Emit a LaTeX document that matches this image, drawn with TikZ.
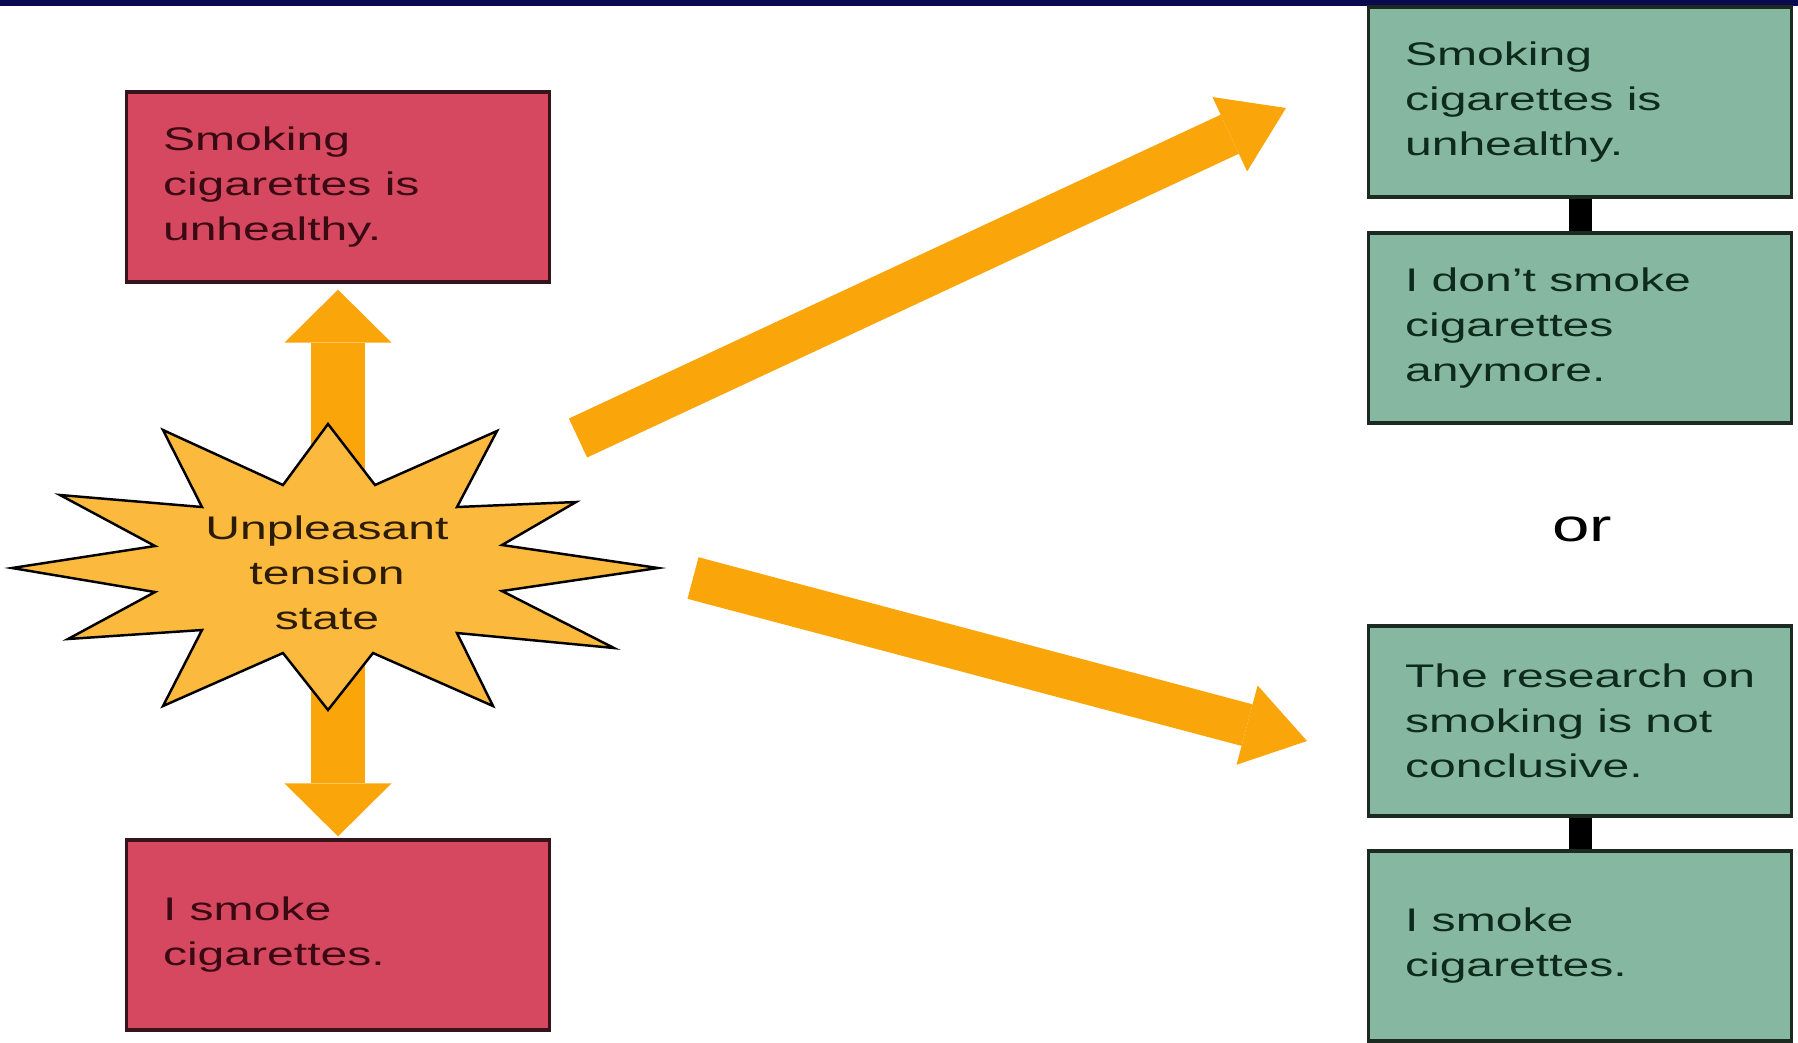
\documentclass[tikz,border=0pt]{standalone}
\usepackage{fontspec}
\setmainfont{Liberation Sans}[FakeStretch=1.47]
\usetikzlibrary{arrows.meta}

\definecolor{navybar}{RGB}{10,10,80}
\definecolor{redfill}{RGB}{214,72,95}
\definecolor{redline}{RGB}{55,20,28}
\definecolor{redtext}{RGB}{58,10,20}
\definecolor{greenfill}{RGB}{134,184,161}
\definecolor{greenline}{RGB}{28,42,34}
\definecolor{greentext}{RGB}{14,42,28}
\definecolor{burstfill}{RGB}{251,185,62}
\definecolor{bursttext}{RGB}{45,28,5}
\definecolor{arrowc}{RGB}{250,166,10}

\begin{document}
\begin{tikzpicture}[x=0.01cm, y=-0.01cm]
	\tikzstyle{box}=[draw, line width=0.9pt, minimum width=4.23cm, minimum height=1.9cm, inner sep=0pt]
	\tikzstyle{red box}=[box, fill=redfill, draw=redline]
	\tikzstyle{green box}=[box, fill=greenfill, draw=greenline]
	\tikzstyle{box text}=[anchor=west, align=left, inner sep=0pt, font=\fontsize{9.3}{12.8}\selectfont]

	\tikzstyle{tall arrow}=[draw=arrowc, line width=0.54cm, -{Triangle[width=1.07cm, length=0.53cm, line width=0pt]}]
	\tikzstyle{slant arrow}=[draw=arrowc, line width=0.43cm, -{Triangle[width=0.82cm, length=0.62cm, line width=0pt]}]
	\tikzstyle{link}=[draw=black, line width=0.23cm]

	\useasboundingbox (0,0) rectangle (1798,1042);
	\fill[navybar] (0,0) rectangle (1798,6);

	\node[red box] (unhealthy) at (338,187) {};
	\node[red box] (smoker) at (338,935) {};
	\node[box text, text=redtext] (unhealthy-txt) at ([xshift=0.375cm]unhealthy.west) {Smoking\\cigarettes is\\unhealthy.};
	\node[box text, text=redtext] (smoker-txt) at ([xshift=0.375cm]smoker.west) {I smoke\\cigarettes.};

	\coordinate (burst) at (328,568);
	\draw[tall arrow, shorten >=0.06cm] (burst -| unhealthy.south) -- (unhealthy.south);
	\draw[tall arrow, shorten >=0.02cm] (burst -| smoker.north) -- (smoker.north);

	\draw[fill=burstfill, draw=black, line width=0.7pt, line join=miter]
		plot coordinates {(328,424) (375,485) (497,431) (457,507) (576,502) (502,545)
		(658,568) (502,591) (614,648) (457,633) (493,706) (373,653) (328,710) (283,653)
		(163,706) (202,630) (68,639) (155,592) (12,568) (155,546) (60,495) (202,507)
		(163,430) (283,485)} -- cycle;
	\node[align=center, inner sep=0pt, text=bursttext, font=\fontsize{9.3}{12.8}\selectfont] (tension) at (327,573) {Unpleasant\\tension\\state};

	\node[green box] (unhealthy2) at (1580,102) {};
	\node[green box] (quit) at (1580,328) {};
	\node[green box] (research) at (1580,721) {};
	\node[green box] (smoker2) at (1580,946) {};
	\node[box text, text=greentext] (unhealthy2-txt) at ([xshift=0.375cm]unhealthy2.west) {Smoking\\cigarettes is\\unhealthy.};
	\node[box text, text=greentext] (quit-txt) at ([xshift=0.375cm]quit.west) {I don't smoke\\cigarettes\\anymore.};
	\node[box text, text=greentext] (research-txt) at ([xshift=0.375cm]research.west) {The research on\\smoking is not\\conclusive.};
	\node[box text, text=greentext] (smoker2-txt) at ([xshift=0.375cm]smoker2.west) {I smoke\\cigarettes.};

	\draw[link] (unhealthy2.south) -- (quit.north);
	\draw[link] (research.south) -- (smoker2.north);

	\node[inner sep=0pt, font=\fontsize{13}{15}\selectfont] (or) at (1582,529) {or};

	\coordinate (upTail) at (578,438);
	\coordinate (upTip) at (1286,108);
	\coordinate (downTail) at (693,578);
	\coordinate (downTip) at (1307,741);
	\draw[slant arrow] (upTail) -- (upTip);
	\draw[slant arrow] (downTail) -- (downTip);
\end{tikzpicture}
\end{document}
